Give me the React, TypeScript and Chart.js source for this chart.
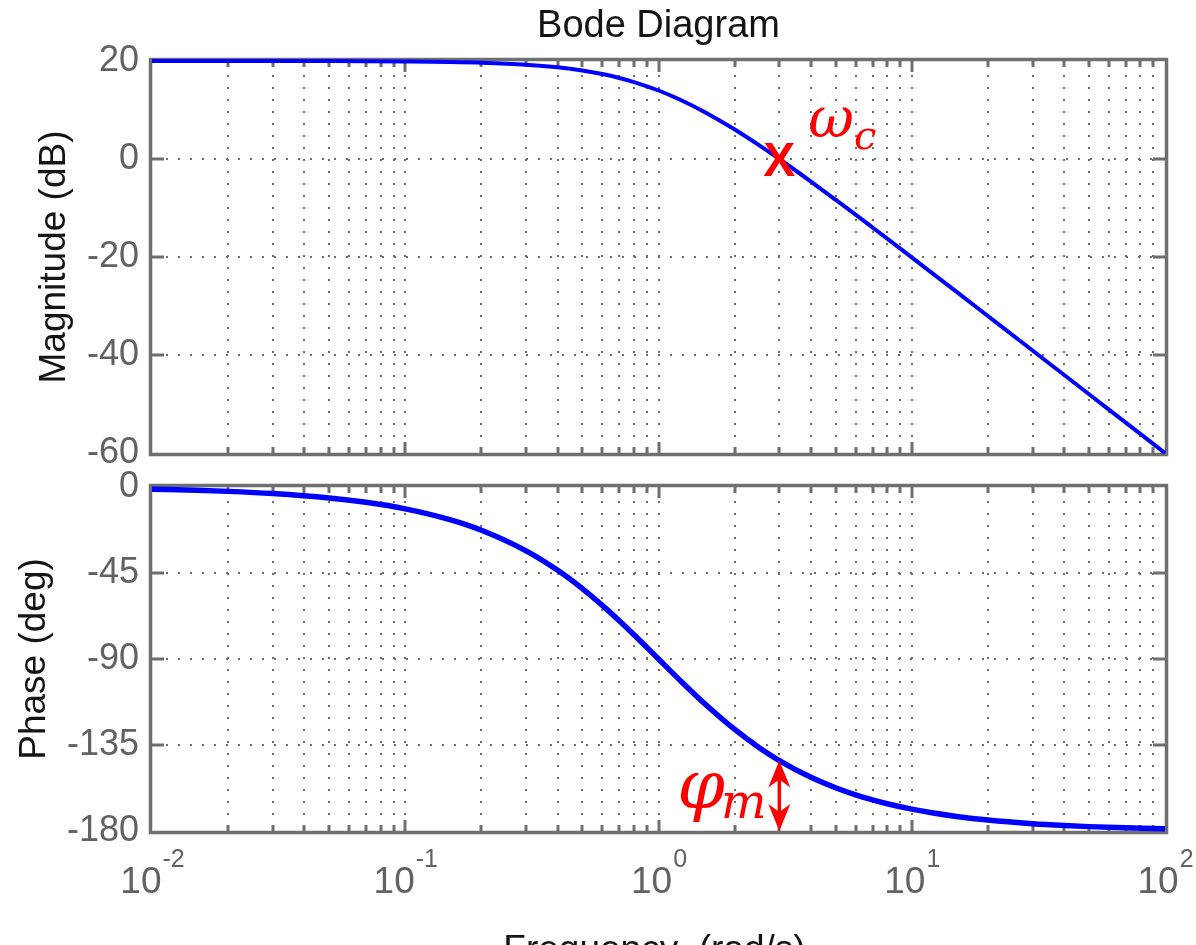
import React, { useEffect, useRef } from "react";
import { Chart, registerables } from "chart.js";

Chart.register(...registerables);

// ---- data ----
const frequencies = [0.01, 0.015, 0.02, 0.03, 0.05, 0.07, 0.1, 0.15, 0.2, 0.3, 0.4, 0.5, 0.6, 0.7, 0.8, 1, 1.2, 1.5, 2, 2.5, 3, 4, 5, 6, 7, 8, 10, 12, 15, 20, 30, 40, 50, 70, 100];
const magnitudeDb = [20.0, 20.0, 20.0, 19.99, 19.98, 19.96, 19.91, 19.81, 19.66, 19.25, 18.71, 18.06, 17.33, 16.54, 15.7, 13.98, 12.25, 9.76, 6.02, 2.79, 0.0, -4.61, -8.3, -11.36, -13.98, -16.26, -20.09, -23.23, -27.08, -32.06, -39.09, -44.09, -47.96, -53.81, -60.0];
const phaseDeg = [-1.15, -1.72, -2.29, -3.44, -5.72, -8.01, -11.42, -17.06, -22.62, -33.4, -43.6, -53.13, -61.93, -69.98, -77.32, -90.0, -100.39, -112.62, -126.87, -136.4, -143.13, -151.93, -157.38, -161.08, -163.74, -165.75, -168.58, -170.48, -172.37, -174.28, -176.18, -177.14, -177.71, -178.36, -178.85];

const xTickExponents = [-2, -1, 0, 1, 2];
const magTickStep = 20;
const phaseTickStep = 45;

const crossoverFreq = 3;
const crossoverMag = 0;
const phaseAtCrossover = -143.13;
const phaseFloor = -180;

const TITLE = "Bode Diagram";
const MAG_LABEL = "Magnitude (dB)";
const PHASE_LABEL = "Phase (deg)";
const FREQ_LABEL = "Frequency  (rad/s)";

const W = 1196;
const H = 945;
const SANS = "'Liberation Sans', Arial, sans-serif";
const SERIF = "'DejaVu Serif', 'Liberation Serif', serif";
const FRAME = "#6f6f6f";
const GRIDC = "#6e6e6e";
const TICKC = "#626262";
const TEXTC = "#141414";

function gridValues(min: number, max: number) {
  const vals: { v: number; decade: boolean }[] = [];
  for (let e = Math.floor(Math.log10(min)); e <= Math.ceil(Math.log10(max)); e++) {
    for (let k = 1; k <= 9; k++) {
      const v = k * Math.pow(10, e);
      if (v > min * 1.0001 && v < max * 0.9999) vals.push({ v, decade: k === 1 });
    }
  }
  return vals;
}

function decorPlugin(panel: "mag" | "phase") {
  return {
    id: "decor_" + panel,
    beforeDatasetsDraw(chart: any) {
      const { ctx, chartArea: a, scales } = chart;
      const xs = scales.x;
      const ys = scales.y;
      const gv = gridValues(xs.min, xs.max);
      ctx.save();
      // dotted grid
      ctx.strokeStyle = GRIDC;
      ctx.lineWidth = 2;
      ctx.setLineDash([2, 10]);
      gv.forEach(({ v }) => {
        const x = Math.round(xs.getPixelForValue(v));
        ctx.beginPath();
        ctx.moveTo(x, a.top + 2);
        ctx.lineTo(x, a.bottom);
        ctx.stroke();
      });
      ys.ticks.forEach((t: any) => {
        if (t.value <= ys.min || t.value >= ys.max) return;
        const y = Math.round(ys.getPixelForValue(t.value));
        ctx.beginPath();
        ctx.moveTo(a.left + 2, y);
        ctx.lineTo(a.right, y);
        ctx.stroke();
      });
      ctx.setLineDash([]);
      // frame
      ctx.strokeStyle = FRAME;
      ctx.lineWidth = 3.5;
      ctx.strokeRect(a.left - 1.5, a.top - 1.5, a.right - a.left + 3, a.bottom - a.top + 3);
      // inward ticks
      ctx.lineWidth = 3;
      gv.forEach(({ v, decade }) => {
        const x = Math.round(xs.getPixelForValue(v));
        const len = decade ? 11 : 6;
        ctx.beginPath();
        ctx.moveTo(x, a.top);
        ctx.lineTo(x, a.top + len);
        ctx.moveTo(x, a.bottom);
        ctx.lineTo(x, a.bottom - len);
        ctx.stroke();
      });
      ys.ticks.forEach((t: any) => {
        if (t.value <= ys.min || t.value >= ys.max) return;
        const y = Math.round(ys.getPixelForValue(t.value));
        ctx.beginPath();
        ctx.moveTo(a.left, y);
        ctx.lineTo(a.left + 12, y);
        ctx.moveTo(a.right, y);
        ctx.lineTo(a.right - 12, y);
        ctx.stroke();
      });
      ctx.restore();
    },
    afterDraw(chart: any) {
      const { ctx, chartArea: a, scales } = chart;
      const xs = scales.x;
      const ys = scales.y;
      ctx.save();
      ctx.fillStyle = TEXTC;
      ctx.textBaseline = "alphabetic";
      if (panel === "mag") {
        ctx.font = `38px ${SANS}`;
        ctx.textAlign = "center";
        ctx.fillText(TITLE, (a.left + a.right) / 2, 37);
        ctx.save();
        ctx.translate(65, (a.top + a.bottom) / 2);
        ctx.rotate(-Math.PI / 2);
        ctx.font = `37px ${SANS}`;
        ctx.fillText(MAG_LABEL, 0, 0);
        ctx.restore();
        // crossover marker
        const cx = xs.getPixelForValue(crossoverFreq);
        const cy = ys.getPixelForValue(crossoverMag);
        ctx.fillStyle = "#ff0000";
        ctx.font = `bold 48px ${SANS}`;
        ctx.textAlign = "center";
        ctx.fillText("X", cx, cy + 17);
        ctx.textAlign = "left";
        ctx.font = `italic 56px ${SERIF}`;
        ctx.fillText("\u03c9", cx + 29, cy - 22);
        const wW = ctx.measureText("\u03c9").width;
        ctx.font = `italic 40px ${SERIF}`;
        ctx.fillText("c", cx + 29 + wW, cy - 10);
      } else {
        ctx.save();
        ctx.translate(45, (a.top + a.bottom) / 2);
        ctx.rotate(-Math.PI / 2);
        ctx.font = `37px ${SANS}`;
        ctx.textAlign = "center";
        ctx.fillText(PHASE_LABEL, 0, 0);
        ctx.restore();
        ctx.font = `37px ${SANS}`;
        ctx.textAlign = "center";
        ctx.fillText(FREQ_LABEL, (a.left + a.right) / 2 - 4, 961);
        // x tick labels 10^n
        ctx.fillStyle = TICKC;
        ctx.textAlign = "left";
        xTickExponents.forEach((e) => {
          const x = xs.getPixelForValue(Math.pow(10, e));
          ctx.font = `37px ${SANS}`;
          const wb = ctx.measureText("10").width;
          ctx.font = `25px ${SANS}`;
          const sup = String(e);
          const ws = ctx.measureText(sup).width;
          const x0 = x - (wb + ws) / 2;
          ctx.font = `37px ${SANS}`;
          ctx.fillText("10", x0, 893);
          ctx.font = `25px ${SANS}`;
          ctx.fillText(sup, x0 + wb + 1, 867);
        });
        // phase margin arrow
        const ax = xs.getPixelForValue(crossoverFreq);
        const y1 = ys.getPixelForValue(phaseAtCrossover);
        const y2 = ys.getPixelForValue(phaseFloor);
        ctx.strokeStyle = "#ff0000";
        ctx.fillStyle = "#ff0000";
        ctx.lineWidth = 3.5;
        ctx.beginPath();
        ctx.moveTo(ax, y1 + 12);
        ctx.lineTo(ax, y2 - 12);
        ctx.stroke();
        const head = (yt: number, dir: number) => {
          ctx.beginPath();
          ctx.moveTo(ax, yt);
          ctx.lineTo(ax - 11, yt + dir * 27);
          ctx.lineTo(ax, yt + dir * 19);
          ctx.lineTo(ax + 11, yt + dir * 27);
          ctx.closePath();
          ctx.fill();
        };
        head(y1, 1);
        head(y2, -1);
        ctx.textAlign = "left";
        ctx.font = `italic 68px ${SERIF}`;
        ctx.fillText("\u03c6", ax - 102, y1 + 47);
        const pW = ctx.measureText("\u03c6").width;
        ctx.font = `italic 48px ${SERIF}`;
        ctx.fillText("m", ax - 102 + pW - 4, y1 + 57);
      }
      ctx.restore();
    },
  };
}

function makeConfig(panel: "mag" | "phase"): any {
  const isMag = panel === "mag";
  const values = isMag ? magnitudeDb : phaseDeg;
  return {
    type: "line",
    data: {
      datasets: [
        {
          data: frequencies.map((f, i) => ({ x: f, y: values[i] })),
          borderColor: "#0000ff",
          borderWidth: isMag ? 4 : 5.5,
          pointRadius: 0,
          fill: false,
          cubicInterpolationMode: "monotone",
          clip: false,
        },
      ],
    },
    options: {
      responsive: false,
      maintainAspectRatio: false,
      animation: false,
      events: [],
      layout: {
        padding: isMag
          ? { left: 0, right: W - 1165, top: 61, bottom: H - 453 }
          : { left: 0, right: W - 1165, top: 487, bottom: H - 831 },
      },
      plugins: { legend: { display: false }, tooltip: { enabled: false }, title: { display: false } },
      scales: {
        x: {
          type: "logarithmic",
          min: 0.01,
          max: 100,
          display: false,
        },
        y: {
          type: "linear",
          min: isMag ? -60 : -180,
          max: isMag ? 20 : 0,
          grid: { display: false, drawTicks: false },
          border: { display: false },
          ticks: {
            stepSize: isMag ? magTickStep : phaseTickStep,
            padding: 13,
            color: TICKC,
            font: { family: "'Liberation Sans', Arial, sans-serif", size: 36 },
          },
          afterFit: (s: any) => {
            s.width = 152;
          },
        },
      },
    },
    plugins: [decorPlugin(panel)],
  };
}

export default function App() {
  const topRef = useRef<HTMLCanvasElement>(null);
  const botRef = useRef<HTMLCanvasElement>(null);
  useEffect(() => {
    const c1 = new Chart(topRef.current as HTMLCanvasElement, makeConfig("mag"));
    const c2 = new Chart(botRef.current as HTMLCanvasElement, makeConfig("phase"));
    return () => {
      c1.destroy();
      c2.destroy();
    };
  }, []);
  const cs: React.CSSProperties = { position: "absolute", left: 0, top: 0, width: W, height: H };
  return (
    <div style={{ position: "fixed", left: 0, top: 0, width: W, height: H, background: "#fff", overflow: "hidden" }}>
      <canvas ref={topRef} width={W} height={H} style={cs} />
      <canvas ref={botRef} width={W} height={H} style={cs} />
    </div>
  );
}
